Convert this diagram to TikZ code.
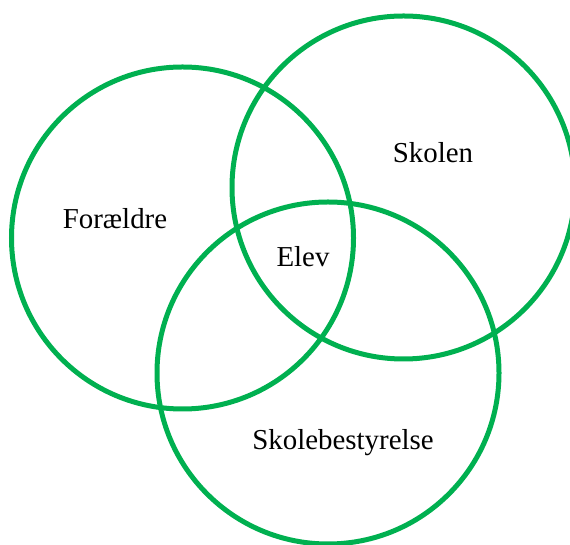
\documentclass[tikz,border=0pt]{standalone}
\usepackage{fontspec}
\setmainfont{Liberation Serif}
\definecolor{vgreen}{HTML}{00B050}
\begin{document}
\begin{tikzpicture}[x=1bp,y=1bp,
  ring/.style={draw=vgreen,line width=5bp},
  lbl/.style={anchor=base,inner sep=0pt,font=\fontsize{29}{34}\selectfont}]
\useasboundingbox (0,0) rectangle (570,545);
\clip (0,0) rectangle (570,545);
\node[ring,circle,minimum size=342bp,inner sep=0pt] (foraeldre) at (182.5,307) {};
\node[ring,circle,minimum size=343bp,inner sep=0pt] (skolen) at (403.5,357.5) {};
\node[ring,circle,minimum size=342bp,inner sep=0pt] (bestyrelse) at (328,172) {};
\node[lbl] (tf) at (115,316) {Forældre};
\node[lbl] (ts) at (433,382) {Skolen};
\node[lbl] (te) at (303,278) {Elev};
\node[lbl] (tb) at (343,95) {Skolebestyrelse};
\end{tikzpicture}
\end{document}
